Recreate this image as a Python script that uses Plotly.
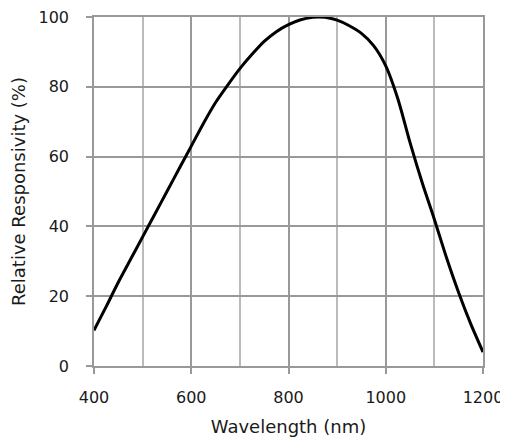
import plotly.graph_objects as go

wavelength = [400, 425, 450, 475, 500, 525, 550, 575, 600, 625, 650, 675, 700, 725, 750,
              775, 800, 825, 850, 862, 875, 900, 925, 950, 975, 1000, 1025, 1050, 1075,
              1100, 1125, 1150, 1175, 1200]
responsivity = [10.2, 17, 24, 30.5, 37, 43.5, 50, 56.5, 63, 69.5, 75.5, 80.5, 85.2, 89.3, 93,
                95.8, 97.8, 99.2, 99.9, 100, 99.9, 99.1, 97.5, 95.3, 91.8, 86, 76.5, 64, 52.5,
                42, 31, 21, 12, 4]
x_ticks = [400, 600, 800, 1000, 1200]
y_ticks = [0, 20, 40, 60, 80, 100]

fig = go.Figure()
fig.add_trace(go.Scatter(x=wavelength, y=responsivity, mode="lines",
                         line=dict(color="black", width=3, shape="spline", smoothing=0.7),
                         showlegend=False))

font = dict(family="DejaVu Sans, Arial, sans-serif", size=16, color="#1a1a1a")
# page body adds ~8px offset; figure sized so plot area lands near x 94-483, y 16-366
fig.update_layout(
    width=500, height=435,
    margin=dict(l=86, r=25, t=9, b=77),
    paper_bgcolor="white", plot_bgcolor="white",
    font=font,
)
fig.update_xaxes(
    range=[400, 1200], tickvals=x_ticks, ticks="outside", ticklen=6, tickcolor="#999",
    tickwidth=1.5, showgrid=True, gridcolor="#999", gridwidth=1.5,
    minor=dict(dtick=100, tick0=400, showgrid=True, gridcolor="#bbb", gridwidth=1.5),
    showline=True, linecolor="#999", linewidth=1.5, mirror=True,
    ticklabelstandoff=10, zeroline=False, automargin=False, ticklabeloverflow="allow",
    title=dict(text="Wavelength (nm)", font=dict(size=18), standoff=14),
)
fig.update_yaxes(
    range=[0, 100], tickvals=y_ticks, ticks="outside", ticklen=6, tickcolor="#999",
    tickwidth=1.5, showgrid=True, gridcolor="#999", gridwidth=1.5,
    showline=True, linecolor="#999", linewidth=1.5, mirror=True,
    ticklabelstandoff=14, zeroline=False, automargin=False, ticklabeloverflow="allow",
    title=dict(text="Relative Responsivity (%)", font=dict(size=18), standoff=18),
)

fig.write_html("out.html")
